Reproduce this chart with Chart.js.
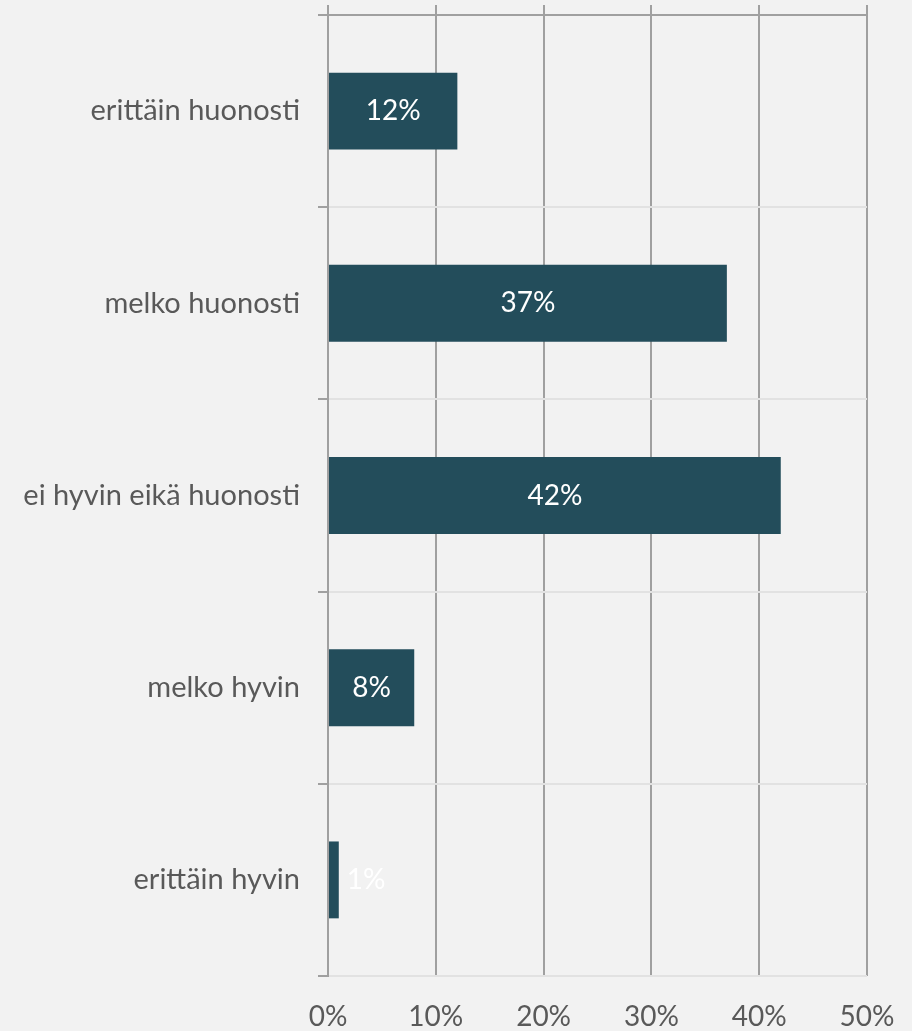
<!DOCTYPE html>
<html>
<head>
<meta charset="utf-8">
<script src="https://cdn.jsdelivr.net/npm/chart.js@4/dist/chart.umd.min.js"></script>
<style>
  html, body { margin: 0; padding: 0; background: #f2f2f2; }
  #wrap { width: 912px; height: 1031px; position: relative; }
</style>
</head>
<body>
<div id="wrap"><canvas id="chart"></canvas></div>
<script>
const categories = ['erittäin huonosti', 'melko huonosti', 'ei hyvin eikä huonosti', 'melko hyvin', 'erittäin hyvin'];
const shares = [12, 37, 42, 8, 1];
const tickValues = [0, 10, 20, 30, 40, 50];

const FONT = 'Lato, "Open Sans", sans-serif';
const GRID = '#a0a0a0';
const LIGHT = '#e2e2e2';

// white value labels in the middle of each bar (outside when the bar is too thin)
const barLabels = {
  id: 'barLabels',
  afterDatasetsDraw(chart) {
    const ctx = chart.ctx;
    const meta = chart.getDatasetMeta(0);
    ctx.save();
    ctx.font = '28px ' + FONT;
    ctx.fillStyle = '#ffffff';
    ctx.textBaseline = 'middle';
    meta.data.forEach((bar, i) => {
      const txt = shares[i] + '%';
      const w = ctx.measureText(txt).width;
      const len = bar.x - bar.base;
      if (len > w + 8) {
        ctx.textAlign = 'center';
        ctx.fillText(txt, (bar.x + bar.base) / 2, bar.y);
      } else {
        ctx.textAlign = 'left';
        ctx.fillText(txt, bar.x + 8, bar.y);
      }
    });
    ctx.restore();
  }
};

new Chart(document.getElementById('chart'), {
  type: 'bar',
  data: {
    labels: categories,
    datasets: [{
      data: shares,
      backgroundColor: '#234d5b',
      barPercentage: 0.8,
      categoryPercentage: 0.5
    }]
  },
  options: {
    indexAxis: 'y',
    responsive: true,
    maintainAspectRatio: false,
    animation: false,
    layout: { padding: { top: 5, right: 45, bottom: 0, left: 0 } },
    plugins: { legend: { display: false }, tooltip: { enabled: false } },
    scales: {
      x: {
        position: 'bottom',
        min: 0, max: 50,
        afterBuildTicks: s => { s.ticks = tickValues.map(v => ({ value: v })); },
        afterFit: s => { s.height = 55; s.paddingLeft = 0; s.paddingRight = 0; },
        border: { display: false },
        grid: { color: GRID, lineWidth: 2, drawTicks: false },
        ticks: {
          padding: 24,
          color: '#595959',
          font: { family: FONT, size: 28 },
          callback: v => v + '%'
        }
      },
      x2: {
        position: 'top',
        axis: 'x',
        min: 0, max: 50,
        afterBuildTicks: s => { s.ticks = tickValues.map(v => ({ value: v })); },
        afterFit: s => { s.height = 10; s.paddingLeft = 0; s.paddingRight = 0; },
        border: { display: false },
        grid: { color: 'transparent', tickColor: GRID, lineWidth: 2, tickLength: 10 },
        ticks: { display: false }
      },
      y: {
        afterFit: s => { s.width = 328; s.paddingTop = 0; s.paddingBottom = 0; },
        border: { display: true, color: GRID, width: 2 },
        grid: {
          color: c => c.index === 0 ? GRID : LIGHT,
          tickColor: GRID,
          lineWidth: 2,
          tickLength: 10
        },
        ticks: {
          padding: 18,
          color: '#595959',
          font: { family: FONT, size: 29 }
        }
      }
    }
  },
  plugins: [barLabels]
});
</script>
</body>
</html>
